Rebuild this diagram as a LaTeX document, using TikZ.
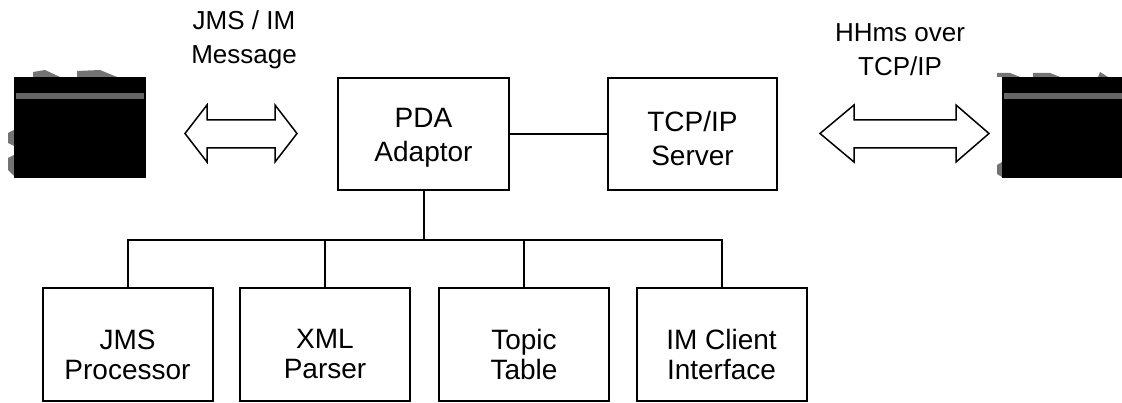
\documentclass[tikz,border=0pt]{standalone}
\usepackage{fontspec}
\setmainfont{Liberation Sans}
\begin{document}
\begin{tikzpicture}[x=1pt,y=-1pt,
  frame/.style={draw,line width=2pt,inner sep=0pt},
  toptext/.style={align=center,inner sep=0pt,font=\fontsize{28}{34}\selectfont},
  bottext/.style={align=center,inner sep=0pt,font=\fontsize{28}{30}\selectfont},
  lbl/.style={align=center,inner sep=0pt,font=\fontsize{26}{34}\selectfont},
  wire/.style={line width=2pt},
  dblarrow/.style={draw,line width=1.5pt,fill=white,line join=miter},
  blackbox/.style={fill=black},
  greybar/.style={fill=black!60},
  frag/.style={fill=black!55}]
\useasboundingbox (0,0) rectangle (1122,403);

% black icons (clipped) with fragments
\fill[frag] (33,72) -- (45,70) -- (60,77) -- (33,77) -- cycle;
\fill[frag] (77,71) -- (100,70) -- (117,77) -- (77,77) -- cycle;
\fill[frag] (8,133) -- (14,130) -- (14,146) -- (8,143) -- cycle;
\fill[frag] (8,158) -- (14,155) -- (14,176) -- (8,170) -- cycle;
\fill[blackbox] (14,77) rectangle (146,178);
\fill[greybar] (16,93) rectangle (144,99);

\fill[frag] (997,73) -- (1010,73) -- (1020,77) -- (997,77) -- cycle;
\fill[frag] (1033,73) -- (1050,73) -- (1060,77) -- (1033,77) -- cycle;
\fill[frag] (1098,77) -- (1100,72) -- (1108,77) -- cycle;
\fill[frag] (997,165) -- (1002,162) -- (1002,177) -- (997,174) -- cycle;
\fill[blackbox] (1002,77) rectangle (1122,178);
\fill[greybar] (1004,93) rectangle (1122,99);

% double arrows
\draw[dblarrow] (185,133.5) -- (207,105) -- (207,120) -- (275,120) -- (275,105)
  -- (297,133.5) -- (275,162) -- (275,148) -- (207,148) -- (207,162) -- cycle;
\draw[dblarrow] (820,133.5) -- (854,105) -- (854,120) -- (956,120) -- (956,105)
  -- (989,133.5) -- (956,162) -- (956,148) -- (854,148) -- (854,162) -- cycle;

% labels
\node[lbl] (l1) at (244,40) {JMS / IM\\Message};
\node[lbl] (l2) at (900,50) {HHms over\\TCP/IP};

% boxes
\node[frame,minimum width=171pt,minimum height=112pt] (pda) at (423.5,134) {};
\node[frame,minimum width=169pt,minimum height=112pt] (tcp) at (692.5,134) {};
\node[toptext] (pdat) at ([yshift=-4pt]pda.center) {PDA\\Adaptor};
\node[toptext] (tcpt) at ([yshift=-4pt]tcp.center) {TCP/IP\\Server};

\node[frame,minimum width=170pt,minimum height=113pt] (jms) at (127.5,344.5) {};
\node[frame,minimum width=170pt,minimum height=113pt] (xml) at (325,344.5) {};
\node[frame,minimum width=170pt,minimum height=113pt] (topic) at (524,344.5) {};
\node[frame,minimum width=170pt,minimum height=113pt] (im) at (721.5,344.5) {};
\node[bottext] (jmst) at ([yshift=-10pt]jms.center) {JMS\\Processor};
\node[bottext] (xmlt) at ([yshift=-10pt]xml.center) {XML\\Parser};
\node[bottext] (topict) at ([yshift=-10pt]topic.center) {Topic\\Table};
\node[bottext] (imt) at ([yshift=-10pt]im.center) {IM Client\\Interface};

% connectors
\draw[wire] (pda) -- (tcp);
\coordinate (bus) at (423.5,240);
\draw[wire] (pda.south) -- (bus);
\draw[wire] (jms.north) |- (bus) -| (im.north);
\draw[wire] (xml.north) -- (xml.north |- bus);
\draw[wire] (topic.north) -- (topic.north |- bus);
\end{tikzpicture}
\end{document}
